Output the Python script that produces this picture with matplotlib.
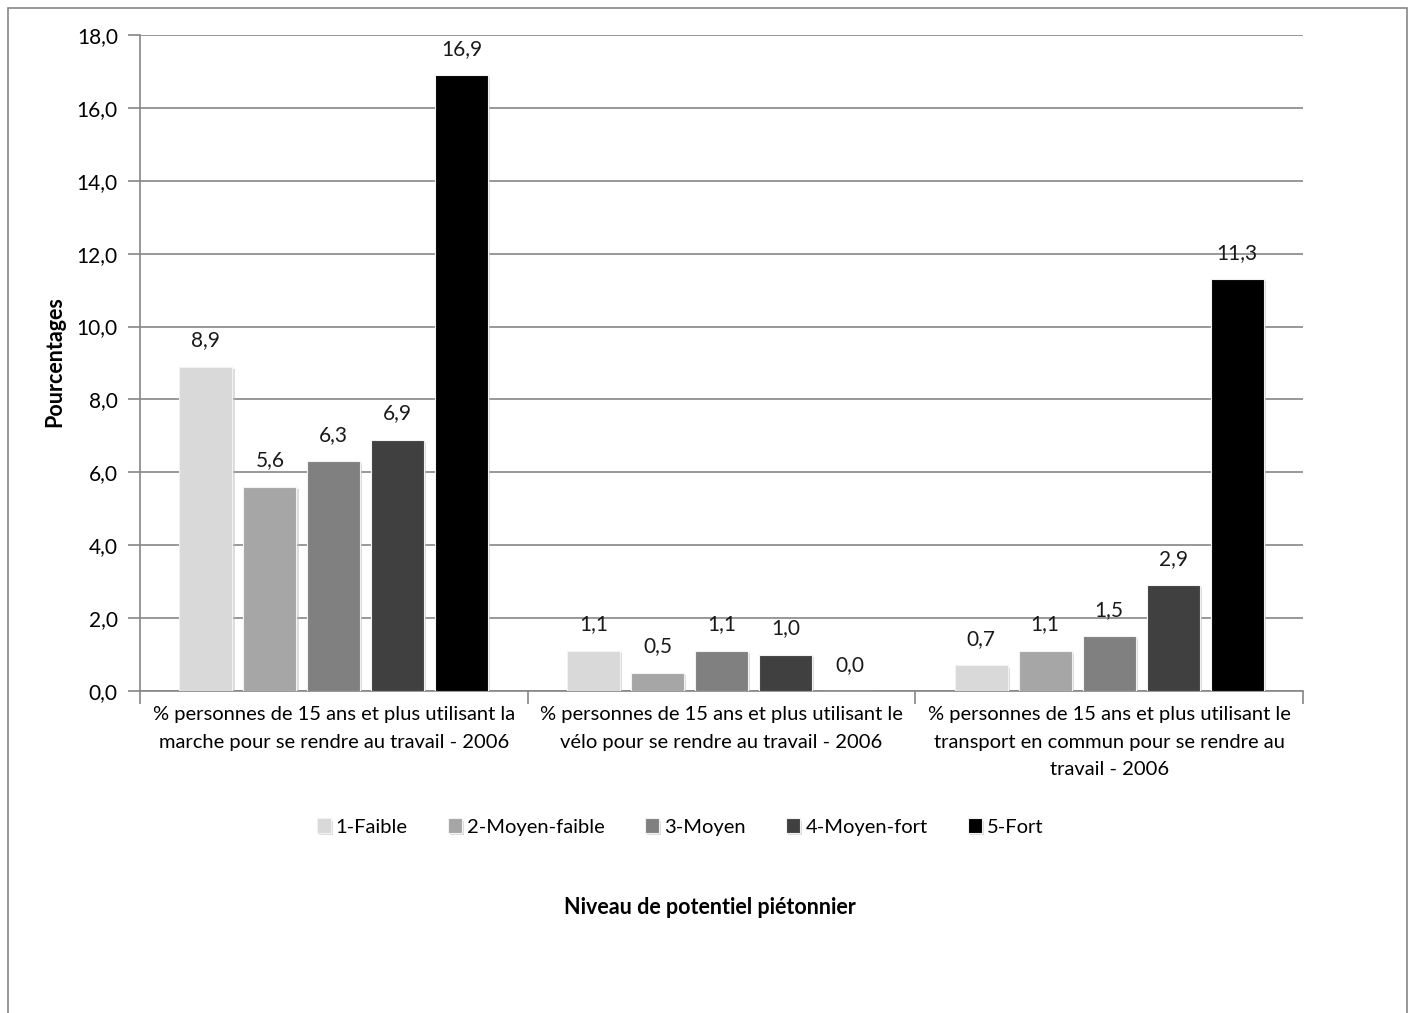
import matplotlib
matplotlib.use('Agg')
import matplotlib.pyplot as plt
import matplotlib.patches as patches
import matplotlib.patheffects as pe
import numpy as np

plt.rcParams['font.family'] = ['Lato', 'DejaVu Sans']

# data
categories = [
    "% personnes de 15 ans et plus utilisant la\nmarche pour se rendre au travail - 2006",
    "% personnes de 15 ans et plus utilisant le\nvélo pour se rendre au travail - 2006",
    "% personnes de 15 ans et plus utilisant le\ntransport en commun pour se rendre au\ntravail - 2006",
]
series_names = ['1-Faible', '2-Moyen-faible', '3-Moyen', '4-Moyen-fort', '5-Fort']
faible = [8.9, 1.1, 0.7]
moyen_faible = [5.6, 0.5, 1.1]
moyen = [6.3, 1.1, 1.5]
moyen_fort = [6.9, 1.0, 2.9]
fort = [16.9, 0.0, 11.3]
series_values = [faible, moyen_faible, moyen, moyen_fort, fort]
colors = ['#d9d9d9', '#a6a6a6', '#808080', '#404040', '#000000']

fig = plt.figure(figsize=(14.11, 10.13), dpi=100)

# outer border like the Excel chart area
fig.patches.append(patches.Rectangle((8 / 1411, -0.05), 1399 / 1411, 1 - 8 / 1013 + 0.05,
                                     transform=fig.transFigure, fill=False,
                                     ec='#868686', lw=1.2))

ax = fig.add_axes([140 / 1411, 322 / 1013, 1163 / 1411, 656 / 1013])

x = np.arange(len(categories))
pitch = 0.165
width = 0.137
shadow = [pe.SimplePatchShadow(offset=(1.5, -1.5), shadow_rgbFace='#bbbbbb', alpha=0.5), pe.Normal()]

for i, (name, vals) in enumerate(zip(series_names, series_values)):
    pos = x + (i - 2) * pitch
    bars = ax.bar(pos, vals, width, color=colors[i], label=name, zorder=3,
                  edgecolor='#f2f2f2', linewidth=0.8)
    for b in bars:
        b.set_path_effects(shadow)
    for p, v in zip(pos, vals):
        ax.text(p, v + 0.45, f"{v:.1f}".replace('.', ','), ha='center', va='bottom',
                fontsize=15, color='#1a1a1a')

ax.set_xlim(-0.5, 2.5)
ax.set_ylim(0, 18)
ax.set_yticks(np.arange(0, 18.1, 2))
ax.set_yticklabels([f"{t:.1f}".replace('.', ',') for t in np.arange(0, 18.1, 2)])
ax.yaxis.grid(True, color='#868686', lw=1.2, zorder=0)

ax.set_xticks([-0.5, 0.5, 1.5, 2.5])
ax.set_xticklabels([])
ax.set_xticks(x, minor=True)
ax.set_xticklabels(categories, minor=True, fontsize=14.5, linespacing=1.75)
ax.tick_params(axis='x', which='minor', length=0, pad=11)
ax.tick_params(axis='x', which='major', length=9, color='#868686', width=1.2)
ax.tick_params(axis='y', length=9, color='#868686', width=1.2, labelsize=15, pad=7)

for s in ['top', 'right']:
    ax.spines[s].set_visible(False)
for s in ['left', 'bottom']:
    ax.spines[s].set_color('#868686')
    ax.spines[s].set_linewidth(1.2)

fig.text(55 / 1411, 1 - 362 / 1013, 'Pourcentages', rotation=90, ha='center', va='center',
         fontsize=15.5, fontweight='bold')
fig.text(710 / 1411, 1 - 907 / 1013, 'Niveau de potentiel piétonnier', ha='center', va='center',
         fontsize=15.5, fontweight='bold')

leg = fig.legend(loc='center', bbox_to_anchor=(680 / 1411, 1 - 827 / 1013), ncol=5,
                 frameon=False, fontsize=14.5, handlelength=0.7, handleheight=0.7,
                 handletextpad=0.25, columnspacing=2.0)

fig.savefig('out.png', dpi=100)
